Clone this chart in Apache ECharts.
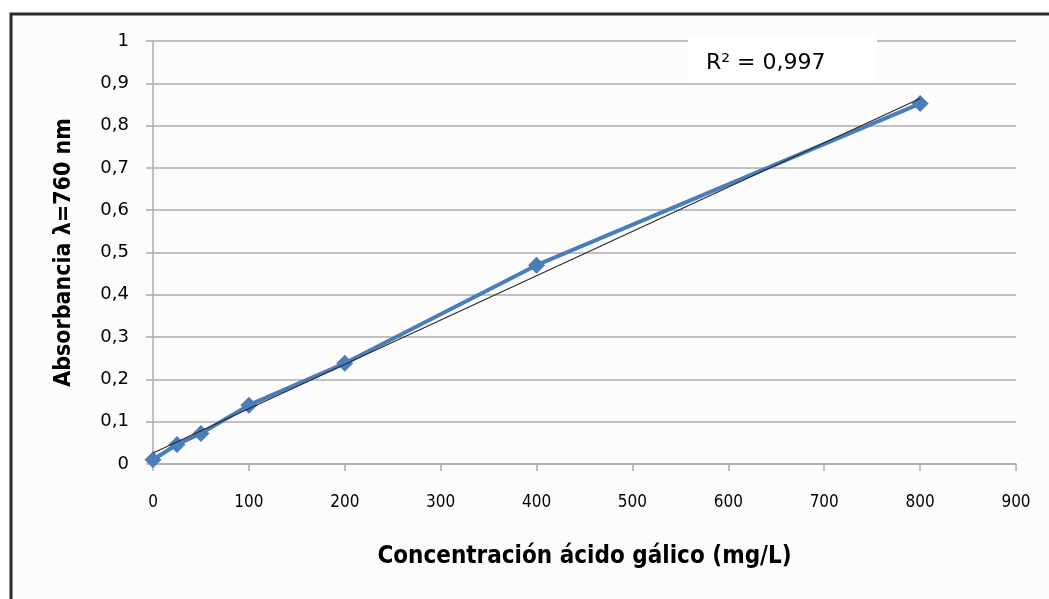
<!DOCTYPE html>
<html>
<head>
<meta charset="utf-8">
<script src="https://cdn.jsdelivr.net/npm/echarts@6/dist/echarts.min.js"></script>
<style>
  html, body { margin: 0; padding: 0; background: #ffffff; }
  #chart { width: 1049px; height: 599px; }
</style>
</head>
<body>
<div id="chart"></div>
<script>
// Gallic acid calibration: concentration (mg/L) vs absorbance at 760 nm
const concentrations = [0, 25, 50, 100, 200, 400, 800];
const absorbances = [0.01, 0.046, 0.072, 0.139, 0.238, 0.47, 0.852];
// Linear trendline endpoints (x, y)
const trendX = [0, 800];
const trendY = [0.026, 0.864];
const xTicks = [0, 100, 200, 300, 400, 500, 600, 700, 800, 900];
const yTicks = [0, 0.1, 0.2, 0.3, 0.4, 0.5, 0.6, 0.7, 0.8, 0.9, 1];
const r2Text = 'R² = 0,997';

const pointData = concentrations.map((c, i) => [c, absorbances[i]]);
const trendData = trendX.map((c, i) => [c, trendY[i]]);

const chart = echarts.init(document.getElementById('chart'), null, { renderer: 'canvas' });

const axisGray = '#acacac';
const labelFont = 'Verdana, "DejaVu Sans", sans-serif';
const comicFont = '"DejaVu Sans Condensed", "DejaVu Sans", sans-serif';

chart.setOption({
  animation: false,
  backgroundColor: '#ffffff',
  graphic: [
    {
      type: 'rect',
      z: -10,
      shape: { x: 11, y: 14, width: 1200, height: 800 },
      style: { fill: '#fcfcfc', stroke: '#2b2b2b', lineWidth: 3 }
    },
    {
      type: 'rect',
      z: 10,
      shape: { x: 688, y: 35, width: 189, height: 47 },
      style: { fill: '#ffffff' }
    },
    {
      type: 'text',
      z: 11,
      x: 706,
      y: 63,
      style: {
        text: r2Text,
        font: '22px ' + labelFont,
        fill: '#000000',
        verticalAlign: 'middle'
      }
    }
  ],
  grid: { left: 153, right: 33, top: 41, bottom: 135, containLabel: false },
  xAxis: {
    type: 'value',
    min: 0,
    max: 900,
    interval: 100,
    name: 'Concentración ácido gálico (mg/L)',
    nameLocation: 'middle',
    nameGap: 81,
    nameTextStyle: { fontFamily: comicFont, fontWeight: 'bold', fontSize: 24, color: '#000' },
    axisLine: { show: true, lineStyle: { color: axisGray, width: 1.5 } },
    axisTick: { show: true, inside: false, length: 7, lineStyle: { color: axisGray, width: 1.5 } },
    axisLabel: {
      margin: 30,
      fontFamily: comicFont,
      fontSize: 17,
      color: '#000',
      formatter: v => (xTicks.includes(v) ? String(v) : '')
    },
    splitLine: { show: false }
  },
  yAxis: {
    type: 'value',
    min: 0,
    max: 1,
    interval: 0.1,
    name: 'Absorbancia λ=760 nm',
    nameLocation: 'middle',
    nameGap: 77,
    nameTextStyle: { fontFamily: comicFont, fontWeight: 'bold', fontSize: 23, color: '#000' },
    axisLine: { show: true, lineStyle: { color: axisGray, width: 1.5 } },
    axisTick: { show: true, inside: false, length: 7, lineStyle: { color: axisGray, width: 1.5 } },
    axisLabel: {
      margin: 24,
      fontFamily: labelFont,
      fontSize: 18,
      color: '#000',
      formatter: v => {
        const t = yTicks.find(k => Math.abs(k - v) < 1e-9);
        return t === undefined ? '' : String(+t.toFixed(1)).replace('.', ',');
      }
    },
    splitLine: { show: true, lineStyle: { color: axisGray, width: 1.5 } }
  },
  series: [
    {
      name: 'Absorbancia',
      type: 'line',
      data: pointData,
      symbol: 'diamond',
      symbolSize: 17,
      showAllSymbol: true,
      lineStyle: { color: '#4a7ebb', width: 4 },
      itemStyle: { color: '#4a7ebb' },
      z: 2
    },
    {
      name: 'Tendencia',
      type: 'line',
      data: trendData,
      symbol: 'none',
      lineStyle: { color: '#2a2a2a', width: 1.2 },
      z: 3
    }
  ]
});
</script>
</body>
</html>
